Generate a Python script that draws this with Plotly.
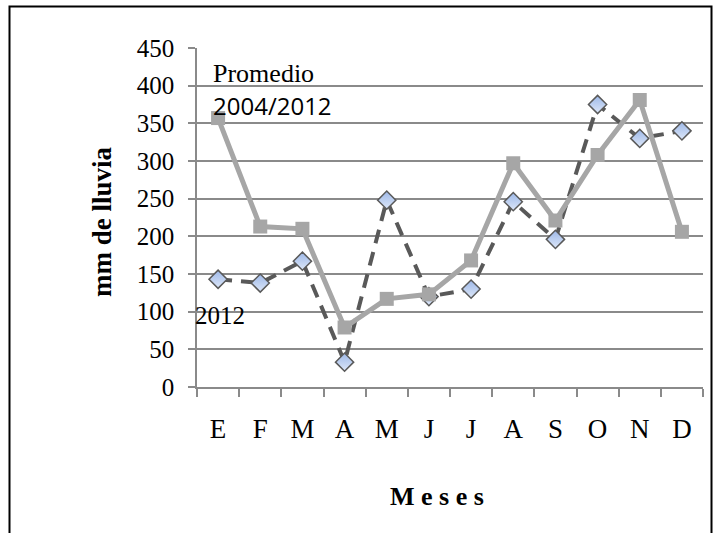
import plotly.graph_objects as go

meses = ["E", "F", "M", "A", "M ", "J", "J ", "A ", "S", "O", "N", "D"]
mes_etiquetas = ["E", "F", "M", "A", "M", "J", "J", "A", "S", "O", "N", "D"]
lluvia_2012 = [143, 138, 167, 33, 248, 120, 130, 246, 196, 375, 330, 340]
promedio_2004_2012 = [357, 213, 210, 79, 117, 123, 168, 297, 221, 308, 381, 206]
y_ticks = [0, 50, 100, 150, 200, 250, 300, 350, 400, 450]

W, H = 713, 533
L, R, T, B = 197, 10, 48, 146
PW, PH = W - L - R, H - T - B


def px(x):
    return (x - L) / PW


def py(y):
    return (H - B - y) / PH


serif = "Liberation Serif, Times New Roman, serif"

fig = go.Figure()
fig.add_trace(go.Scatter(
    x=meses, y=lluvia_2012, name="2012", mode="lines+markers",
    line=dict(color="#595959", width=4, dash="14px,9px"),
    marker=dict(symbol="diamond", size=14, color="#9DB8E8",
                gradient=dict(type="vertical", color="#DDE7F8"),
                line=dict(color="#595959", width=1.5)),
))
fig.add_trace(go.Scatter(
    x=meses, y=promedio_2004_2012, name="Promedio 2004/2012", mode="lines+markers",
    line=dict(color="#A6A6A6", width=5),
    marker=dict(symbol="square", size=14, color="#A6A6A6"),
))

fig.update_layout(
    width=W, height=H,
    margin=dict(l=L, r=R, t=T, b=B, pad=0),
    paper_bgcolor="white", plot_bgcolor="white",
    showlegend=False,
    font=dict(family=serif, size=24, color="black"),
    xaxis=dict(
        type="category", tickmode="array", tickvals=meses, ticktext=mes_etiquetas,
        tickson="boundaries", ticks="outside", ticklen=8, tickwidth=1.5,
        tickcolor="#8a8a8a", showline=True, linecolor="#8a8a8a", linewidth=1.5,
        showgrid=False, tickfont=dict(family=serif, size=27),
        ticklabelstandoff=17, range=[-0.5, 11.5],
    ),
    yaxis=dict(
        range=[0, 450], tickmode="array", tickvals=y_ticks,
        ticks="outside", ticklen=7, tickwidth=1.5, tickcolor="#8a8a8a",
        showline=True, linecolor="#8a8a8a", linewidth=1.5,
        showgrid=True, gridcolor="#8a8a8a", gridwidth=1.5, zeroline=False,
        tickfont=dict(family=serif, size=25), ticklabelstandoff=9,
    ),
    annotations=[
        dict(text="Promedio", x=px(211), y=py(73), xref="paper", yref="paper",
             xanchor="left", yanchor="middle", showarrow=False,
             font=dict(family=serif, size=26)),
        dict(text="2004/2012", x=px(211), y=py(105), xref="paper", yref="paper",
             xanchor="left", yanchor="middle", showarrow=False,
             font=dict(family="Open Sans, sans-serif", size=24)),
        dict(text="2012", x=px(220), y=py(315), xref="paper", yref="paper",
             xanchor="center", yanchor="middle", showarrow=False,
             font=dict(family=serif, size=25)),
        dict(text="<b>M e s e s</b>", x=px(437), y=py(497), xref="paper", yref="paper",
             xanchor="center", yanchor="middle", showarrow=False,
             font=dict(family=serif, size=26)),
        dict(text="<b>mm de lluvia</b>", x=px(102), y=py(222), xref="paper", yref="paper",
             xanchor="center", yanchor="middle", showarrow=False, textangle=-90,
             font=dict(family=serif, size=27)),
    ],
    shapes=[
        dict(type="rect", xref="paper", yref="paper",
             x0=px(9.5), x1=px(711.5), y0=py(545), y1=py(6.5),
             line=dict(color="black", width=2), fillcolor="rgba(0,0,0,0)"),
    ],
)

fig.write_html("out.html", config={"displayModeBar": False},
               post_script="document.body.style.margin='0';")
